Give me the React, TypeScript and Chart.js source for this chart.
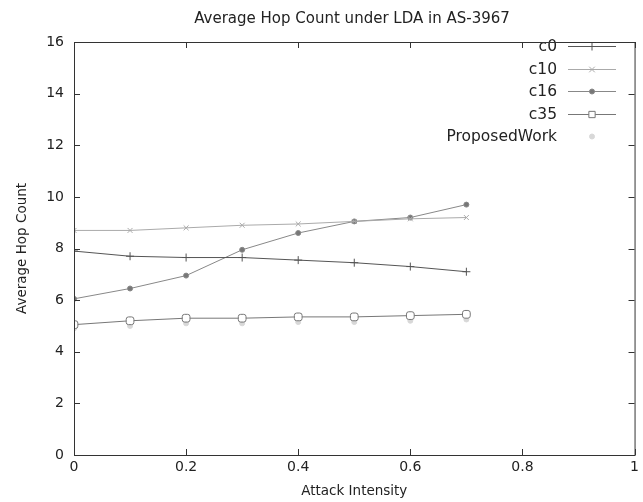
import React, { useEffect, useRef } from "react";
import { Chart, registerables } from "chart.js";

Chart.register(...registerables);

const xValues = [0, 0.1, 0.2, 0.3, 0.4, 0.5, 0.6, 0.7];
const c0 = [7.9, 7.7, 7.65, 7.65, 7.55, 7.45, 7.3, 7.1];
const c10 = [8.7, 8.7, 8.8, 8.9, 8.95, 9.05, 9.15, 9.2];
const c16 = [6.05, 6.45, 6.95, 7.95, 8.6, 9.05, 9.2, 9.7];
const c35 = [5.05, 5.2, 5.3, 5.3, 5.35, 5.35, 5.4, 5.45];
const proposedWork = [4.9, 5.0, 5.1, 5.1, 5.15, 5.15, 5.2, 5.25];
const xTicks = [0, 0.2, 0.4, 0.6, 0.8, 1];
const yTicks = [0, 2, 4, 6, 8, 10, 12, 14, 16];

const FONT = "'DejaVu Sans', sans-serif";

const toPoints = (ys: number[]) => xValues.map((x, i) => ({ x, y: ys[i] }));

function drawMarker(ctx: CanvasRenderingContext2D, style: string, r: number, x: number, y: number) {
  ctx.beginPath();
  if (style === "cross") {
    ctx.moveTo(x - r, y);
    ctx.lineTo(x + r, y);
    ctx.moveTo(x, y - r);
    ctx.lineTo(x, y + r);
    ctx.stroke();
  } else if (style === "crossRot") {
    const d = r * 0.8;
    ctx.moveTo(x - d, y - d);
    ctx.lineTo(x + d, y + d);
    ctx.moveTo(x - d, y + d);
    ctx.lineTo(x + d, y - d);
    ctx.stroke();
  } else if (style === "rectRounded") {
    const s = r * 1.4;
    ctx.rect(x - s / 2, y - s / 2, s, s);
    ctx.fill();
    ctx.stroke();
  } else {
    ctx.arc(x, y, r, 0, Math.PI * 2);
    ctx.fill();
    ctx.stroke();
  }
}

const framePlugin = {
  id: "gnuFrame",
  afterDraw(chart: any) {
    const { ctx, chartArea: a, scales } = chart;
    ctx.save();
    // title
    ctx.fillStyle = "#222";
    ctx.font = `15px ${FONT}`;
    ctx.textAlign = "center";
    ctx.textBaseline = "middle";
    ctx.fillText("Average Hop Count under LDA in AS-3967", 352, 19);

    // legend (gnuplot style)
    const lineL = 568;
    const lineR = 616;
    const mx = (lineL + lineR) / 2;
    ctx.textAlign = "right";
    ctx.font = `15.5px ${FONT}`;
    chart.data.datasets.forEach((ds: any, i: number) => {
      const y = Math.round(46 + i * 22.5) + 0.5;
      ctx.fillStyle = "#222";
      ctx.fillText(ds.label, 557, y);
      ctx.strokeStyle = ds.borderColor;
      ctx.lineWidth = 1;
      if (ds.showLine !== false) {
        ctx.beginPath();
        ctx.moveTo(lineL, y);
        ctx.lineTo(lineR, y);
        ctx.stroke();
      }
      ctx.fillStyle = ds.pointBackgroundColor;
      drawMarker(ctx, ds.pointStyle, ds.pointRadius, mx, y);
    });

    // border and inward ticks
    ctx.strokeStyle = "#333";
    ctx.lineWidth = 1;
    ctx.strokeRect(a.left + 0.5, a.top + 0.5, a.right - a.left, a.bottom - a.top);
    ctx.beginPath();
    for (const t of xTicks) {
      const px = Math.round(scales.x.getPixelForValue(t)) + 0.5;
      ctx.moveTo(px, a.bottom);
      ctx.lineTo(px, a.bottom - 6);
      ctx.moveTo(px, a.top);
      ctx.lineTo(px, a.top + 6);
    }
    for (const t of yTicks) {
      const py = Math.round(scales.y.getPixelForValue(t)) + 0.5;
      ctx.moveTo(a.left, py);
      ctx.lineTo(a.left + 6, py);
      ctx.moveTo(a.right, py);
      ctx.lineTo(a.right - 6, py);
    }
    ctx.stroke();
    ctx.restore();
  },
};

export default function App() {
  const ref = useRef<HTMLCanvasElement>(null);
  useEffect(() => {
    if (!ref.current) return;
    const mk = (
      label: string,
      ys: number[],
      color: string,
      pointStyle: string,
      radius: number,
      bg: string,
      showLine = true
    ) => ({
      label,
      data: toPoints(ys),
      borderColor: color,
      backgroundColor: bg,
      pointBackgroundColor: bg,
      pointBorderColor: color,
      pointStyle,
      pointRadius: radius,
      pointBorderWidth: 1,
      borderWidth: 1,
      showLine,
      tension: 0,
    });
    const chart = new Chart(ref.current, {
      type: "line",
      data: {
        datasets: [
          mk("c0", c0, "#555", "cross", 4, "#555"),
          mk("c10", c10, "#aaa", "crossRot", 3.5, "#aaa"),
          mk("c16", c16, "#888", "circle", 2.5, "#777"),
          mk("c35", c35, "#777", "rectRounded", 4.5, "#fff"),
          mk("ProposedWork", proposedWork, "#d8d8d8", "circle", 2.5, "#d8d8d8", false),
        ] as any,
      },
      options: {
        animation: false,
        responsive: false,
        devicePixelRatio: 1,
        layout: { padding: { top: 42, right: 5, left: 0, bottom: 0 } },
        plugins: {
          legend: { display: false },
          title: { display: false },
          tooltip: { enabled: false },
        },
        scales: {
          x: {
            type: "linear",
            min: 0,
            max: 1,
            afterFit: (s: any) => {
              s.height = 47;
            },
            afterBuildTicks: (s: any) => {
              s.ticks = xTicks.map((v) => ({ value: v }));
            },
            ticks: {
              color: "#222",
              font: { family: FONT, size: 14 },
              padding: 4,
              maxRotation: 0,
              callback: (v: any) => String(v),
            },
            grid: { display: false, drawTicks: false },
            border: { display: false },
            title: {
              display: true,
              text: "Attack Intensity",
              color: "#222",
              font: { family: FONT, size: 13.5 },
              padding: { top: 4, bottom: 2 },
            },
          },
          y: {
            type: "linear",
            min: 0,
            max: 16,
            afterFit: (s: any) => {
              s.width = 74;
            },
            afterBuildTicks: (s: any) => {
              s.ticks = yTicks.map((v) => ({ value: v }));
            },
            ticks: {
              color: "#222",
              font: { family: FONT, size: 14 },
              padding: 10,
            },
            grid: { display: false, drawTicks: false },
            border: { display: false },
            title: {
              display: true,
              text: "Average Hop Count",
              color: "#222",
              font: { family: FONT, size: 13.5 },
              padding: { top: 14, bottom: 0 },
            },
          },
        },
      } as any,
      plugins: [framePlugin],
    });
    return () => chart.destroy();
  }, []);
  return (
    <div style={{ position: "absolute", left: 0, top: 0, width: 643, height: 502, background: "#fff" }}>
      <canvas ref={ref} width={643} height={502} />
    </div>
  );
}
